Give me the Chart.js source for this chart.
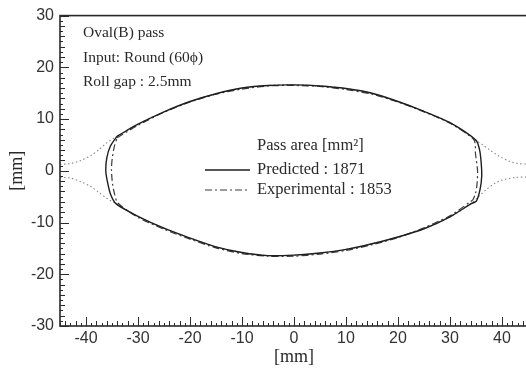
<!DOCTYPE html>
<html>
<head>
<meta charset="utf-8">
<script src="https://cdn.jsdelivr.net/npm/chart.js@4/dist/chart.umd.min.js"></script>
<style>
  html, body { margin: 0; padding: 0; background: #fff; overflow: hidden; }
  #wrap { width: 530px; height: 368px; }
</style>
</head>
<body>
<div id="wrap"><canvas id="c" width="530" height="368"></canvas></div>
<script>
// Axis tick labels
const xTicks = [-40, -30, -20, -10, 0, 10, 20, 30, 40];
const yTicks = [-30, -20, -10, 0, 10, 20, 30];

// Predicted section contour (closed loop, mm)
const predX = [-34.0, -30, -25, -20, -15, -10, -5, 0, 5, 10, 15, 20, 25, 30, 35.0,
               35.7, 36.0, 36.1, 35.8, 35.1,
               34, 30, 25, 20, 15, 10, 5, 0, -5, -10, -15, -20, -25, -30, -34.2,
               -35.3, -35.9, -36.2, -36.0, -35.3, -34.0];
const predY = [6.7, 9.0, 11.4, 13.4, 14.9, 16.0, 16.5, 16.6, 16.4, 15.9, 15.0, 13.4, 11.5, 9.3, 5.9,
               4.0, 1.5, -1.0, -3.5, -5.8,
               -6.4, -8.9, -11.2, -12.8, -14.1, -15.2, -15.9, -16.3, -16.4, -15.8, -14.7, -13.0, -11.1, -8.8, -6.4,
               -4.5, -2.0, 0, 2.5, 4.8, 6.7];

// Experimental section contour (closed loop, mm)
const expX = [-34.0, -30, -25, -20, -15, -10, -5, 0, 5, 10, 15, 20, 25, 30, 34.6,
              34.9, 35.3, 35.2, 34.9, 34.4,
              33.9, 30, 25, 20, 15, 10, 5, 0, -5, -10, -15, -20, -25, -30, -33.9,
              -34.5, -34.9, -35.1, -35.0, -34.6, -34.0];
const expY = [6.4, 8.8, 11.3, 13.3, 14.8, 15.8, 16.4, 16.5, 16.3, 15.7, 14.8, 13.3, 11.4, 9.2, 6.0,
              3.3, 0, -2.5, -4.4, -5.6,
              -6.0, -8.7, -11.0, -12.9, -14.3, -15.4, -16.1, -16.5, -16.5, -16.0, -14.9, -13.2, -11.3, -9.0, -6.2,
              -4.5, -2.5, 0, 2.0, 4.5, 6.4];

// Upper and lower roll groove profiles (mm)
const rollUpX = [-45, -43, -41, -39, -37.5, -36, -34.0, -30, -25, -20, -15, -10, -5, 0, 5, 10, 15, 20, 25, 30, 35.0, 36.3, 37.7, 39.5, 41.5, 43, 45];
const rollUpY = [1.25, 1.4, 2.0, 3.0, 4.1, 5.4, 6.7, 9.0, 11.4, 13.4, 14.9, 16.0, 16.5, 16.6, 16.4, 15.9, 15.0, 13.4, 11.5, 9.3, 5.9, 5.0, 4.0, 2.8, 1.8, 1.4, 1.3];
const rollLowX = [-45, -43, -41, -39, -37.5, -36, -34.2, -30, -25, -20, -15, -10, -5, 0, 5, 10, 15, 20, 25, 30, 34, 35.5, 37, 38.5, 40, 42.5, 45];
const rollLowY = [-1.25, -1.4, -2.1, -3.1, -4.2, -5.3, -6.4, -8.8, -11.1, -13.0, -14.7, -15.8, -16.4, -16.3, -15.9, -15.2, -14.1, -12.8, -11.2, -8.9, -6.4, -5.0, -3.6, -2.5, -1.8, -1.3, -1.2];

// Text blocks
const infoLines = ['Oval(B) pass', 'Input: Round (60\u03D5)', 'Roll gap : 2.5mm'];
const legendTitle = 'Pass area [mm\u00B2]';

const pts = (xs, ys) => xs.map((v, i) => ({ x: v, y: ys[i] }));

const INK = '#2a2a2a';
const SERIF = '"Liberation Serif", "DejaVu Serif", serif';
const SANS = '"Liberation Sans", Arial, sans-serif';

// Frame, inward ticks, info text and legend
const decorations = {
  id: 'decorations',
  afterDatasetsDraw(chart) {
    const { ctx, chartArea: a, scales: { x, y } } = chart;
    ctx.save();
    ctx.strokeStyle = INK;
    ctx.lineWidth = 1;
    ctx.beginPath();
    for (let v = Math.ceil(x.min); v <= x.max; v++) {
      const len = v % 10 === 0 ? 9 : (v % 2 === 0 ? 5 : 3);
      const px = Math.round(x.getPixelForValue(v)) + 0.5;
      ctx.moveTo(px, a.bottom);
      ctx.lineTo(px, a.bottom - len);
    }
    for (let v = Math.ceil(y.min); v <= y.max; v++) {
      const len = v % 10 === 0 ? 9 : (v % 2 === 0 ? 5 : 3);
      const py = Math.round(y.getPixelForValue(v)) + 0.5;
      ctx.moveTo(a.left, py);
      ctx.lineTo(a.left + len, py);
    }
    ctx.stroke();
    ctx.lineWidth = 1.6;
    ctx.strokeRect(a.left, a.top, a.right - a.left, a.bottom - a.top);

    // info block
    ctx.fillStyle = INK;
    ctx.font = '15.5px ' + SERIF;
    ctx.textBaseline = 'middle';
    ctx.textAlign = 'left';
    const infoY = [33, 58, 82];
    infoLines.forEach((t, i) => ctx.fillText(t, 83, infoY[i]));

    // legend
    ctx.font = '16.5px ' + SERIF;
    ctx.fillText(legendTitle, 257, 146);
    const rows = [{ ds: 0, y: 170 }, { ds: 1, y: 190 }];
    rows.forEach(r => {
      const ds = chart.data.datasets[r.ds];
      ctx.save();
      ctx.strokeStyle = ds.borderColor;
      ctx.lineWidth = ds.borderWidth;
      ctx.setLineDash(ds.borderDash || []);
      ctx.beginPath();
      ctx.moveTo(205, r.y);
      ctx.lineTo(250, r.y);
      ctx.stroke();
      ctx.restore();
      ctx.fillText(ds.label, 257, r.y);
    });
    ctx.restore();
  }
};

new Chart(document.getElementById('c'), {
  type: 'scatter',
  data: {
    datasets: [
      { label: 'Predicted : 1871', data: pts(predX, predY), showLine: true, pointRadius: 0,
        borderColor: '#1e1e1e', borderWidth: 1.4, tension: 0.25, order: 1 },
      { label: 'Experimental : 1853', data: pts(expX, expY), showLine: true, pointRadius: 0,
        borderColor: '#3a3a3a', borderWidth: 1.2, borderDash: [7, 3, 2, 3], tension: 0.25, order: 2 },
      { label: 'Upper roll', data: pts(rollUpX, rollUpY), showLine: true, pointRadius: 0,
        borderColor: '#8a8a8a', borderWidth: 1.1, borderDash: [1.5, 2.5], tension: 0.3, order: 3 },
      { label: 'Lower roll', data: pts(rollLowX, rollLowY), showLine: true, pointRadius: 0,
        borderColor: '#8a8a8a', borderWidth: 1.1, borderDash: [1.5, 2.5], tension: 0.3, order: 3 }
    ]
  },
  options: {
    responsive: false,
    animation: false,
    layout: { padding: { left: 0, top: 15, right: 2, bottom: 0 } },
    plugins: { legend: { display: false }, tooltip: { enabled: false } },
    scales: {
      x: {
        type: 'linear', min: -45, max: 45, offset: false,
        afterBuildTicks: s => { s.ticks = xTicks.map(v => ({ value: v })); },
        afterFit: s => { s.height = 42; },
        grid: { display: false, drawTicks: false },
        border: { display: false },
        ticks: { color: '#333', font: { family: SANS, size: 16 }, padding: 3, maxRotation: 0, autoSkip: false },
        title: { display: true, text: '[mm]', color: INK, font: { family: SERIF, size: 18 }, padding: { top: 0, bottom: 0 } }
      },
      y: {
        type: 'linear', min: -30, max: 30,
        afterBuildTicks: s => { s.ticks = yTicks.map(v => ({ value: v })); },
        afterFit: s => { s.width = 60; },
        grid: { display: false, drawTicks: false },
        border: { display: false },
        ticks: { color: '#333', font: { family: SANS, size: 16 }, padding: 6, autoSkip: false },
        title: { display: true, text: '[mm]', color: INK, font: { family: SERIF, size: 18 }, padding: { top: 6, bottom: 0 } }
      }
    }
  },
  plugins: [decorations]
});
</script>
</body>
</html>
